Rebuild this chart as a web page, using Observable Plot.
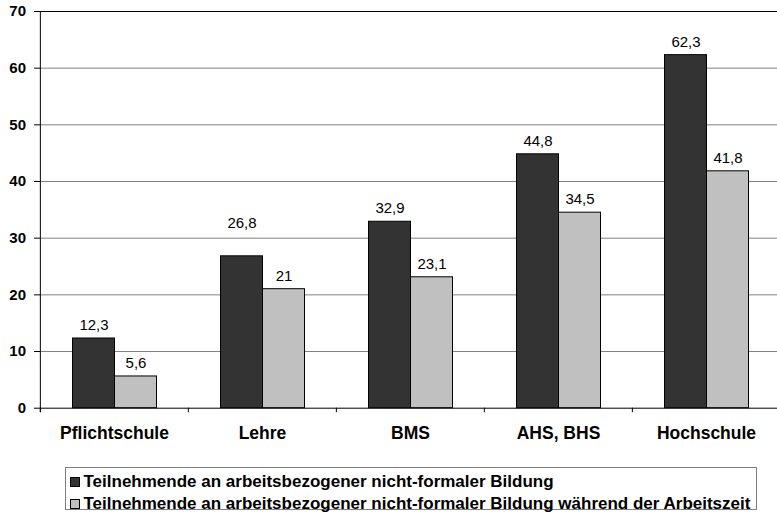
<!DOCTYPE html>
<html>
<head>
<meta charset="utf-8">
<script src="https://cdn.jsdelivr.net/npm/d3@7"></script>
<script src="https://cdn.jsdelivr.net/npm/@observablehq/plot@0.6"></script>
<style>
  html, body { margin: 0; padding: 0; background: white; width: 777px; height: 512px; overflow: hidden; }
  body { font-family: "Liberation Sans", Arial, sans-serif; position: relative; }
  #chart svg { display: block; overflow: hidden; }
  .legend { position: absolute; left: 64.5px; top: 467px; width: 692px; height: 43px; border: 1px solid #808080; box-sizing: border-box; }
  .legend .row { position: absolute; left: 4px; height: 20px; display: flex; align-items: center; font-weight: bold; font-size: 17px; color: #000; white-space: nowrap; }
  .legend .sw { width: 8px; height: 8px; border: 1px solid #000; margin-right: 4px; flex: none; }
</style>
</head>
<body>
<div id="chart"></div>
<div class="legend" id="legend"></div>
<script>
const categories = ["Pflichtschule", "Lehre", "BMS", "AHS, BHS", "Hochschule"];
const series = [
  "Teilnehmende an arbeitsbezogener nicht-formaler Bildung",
  "Teilnehmende an arbeitsbezogener nicht-formaler Bildung während der Arbeitszeit"
];
const valuesA = [12.3, 26.8, 32.9, 44.8, 62.3];
const valuesB = [5.6, 21, 23.1, 34.5, 41.8];
const yTicks = [0, 10, 20, 30, 40, 50, 60, 70];
const colors = ["#333333", "#c0c0c0"];

const data = categories.flatMap((c, i) => [
  {category: c, series: series[0], value: valuesA[i]},
  {category: c, series: series[1], value: valuesB[i]}
]);
const fmt = v => String(v).replace(".", ",");

const W = 777, H = 455, mL = 39.5, mR = -4, mT = 11, mB = 47.3;
const step = (W - mL - mR) / categories.length;
const raised = d => d.category === "Lehre" && d.series === series[0];

const plot = Plot.plot({
  width: W, height: H,
  marginTop: mT, marginBottom: mB, marginLeft: mL, marginRight: mR,
  style: {fontFamily: '"Liberation Sans", Arial, sans-serif', background: "white", color: "black"},
  fx: {domain: categories, padding: 0, label: null},
  x: {domain: series, paddingInner: 0, paddingOuter: 0.737, axis: null},
  y: {domain: [0, 70], label: null},
  color: {domain: series, range: colors},
  marks: [
    Plot.ruleY(yTicks.filter(t => t > 0 && t < 70), {stroke: "#808080", strokeWidth: 1}),
    Plot.ruleY([70], {stroke: "#000", strokeWidth: 1}),
    Plot.barY(data, {fx: "category", x: "series", y: "value", fill: "series", stroke: "#000", strokeWidth: 1}),
    Plot.ruleY([0], {stroke: "#000", strokeWidth: 1}),
    Plot.ruleX(categories, {fx: d => d, x: null, y1: 0, y2: 0, insetBottom: -4.5, dx: -step / 2, stroke: "#000"}),
    Plot.ruleX([categories[0]], {fx: d => d, x: null, y1: 70, y2: 0, insetBottom: -4.5, dx: -step / 2, stroke: "#000"}),
    Plot.text(data.filter(d => !raised(d)), {fx: "category", x: "series", y: "value", text: d => fmt(d.value), lineAnchor: "bottom", dy: -8.5, fontSize: 15, fill: "#000"}),
    Plot.text(data.filter(raised), {fx: "category", x: "series", y: "value", text: d => fmt(d.value), lineAnchor: "bottom", dy: -28, fontSize: 15, fill: "#000"}),
    Plot.axisY({anchor: "left", ticks: yTicks, tickSize: 6, tickPadding: 8.5, tickFormat: d => String(d), fontSize: 15, fontWeight: "bold", label: null, stroke: "#000", fill: "#000"}),
    Plot.axisFx({anchor: "bottom", tickSize: 0, tickPadding: 18, fontSize: 17.5, fontWeight: "bold", label: null, fill: "#000"})
  ]
});
document.getElementById("chart").appendChild(plot);

const legend = document.getElementById("legend");
series.forEach((s, i) => {
  const row = document.createElement("div");
  row.className = "row";
  row.style.top = (4 + i * 21.5) + "px";
  const sw = document.createElement("span");
  sw.className = "sw";
  sw.style.background = colors[i];
  const t = document.createElement("span");
  t.textContent = s;
  row.appendChild(sw);
  row.appendChild(t);
  legend.appendChild(row);
});
</script>
</body>
</html>
